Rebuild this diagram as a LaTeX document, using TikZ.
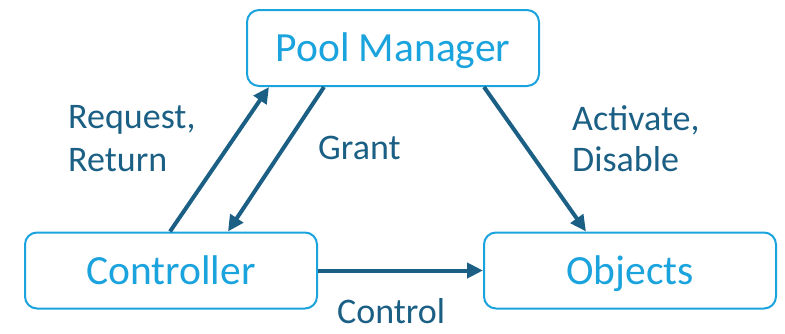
\documentclass[tikz,border=0pt]{standalone}
\usepackage{fontspec}
\setmainfont{Carlito}
\usetikzlibrary{arrows.meta,calc}
\definecolor{boxblue}{HTML}{1AA3DD}
\definecolor{arrblue}{HTML}{1B5F84}
\tikzset{
  box/.style={draw=boxblue, line width=2pt, rounded corners=12pt, fill=white,
    minimum width=292pt, minimum height=76pt, text=boxblue,
    font=\fontsize{41.5}{48}\selectfont, inner sep=0pt,
    text height=27pt, text depth=0pt},
  arr/.style={draw=arrblue, line width=4pt, -{Triangle[length=16pt,width=15pt]}},
  lbl/.style={text=arrblue, font=\fontsize{36}{43}\selectfont, inner sep=0pt}
}
\begin{document}
\begin{tikzpicture}[x=1pt,y=-1pt]
\useasboundingbox (0,0) rectangle (785,333);
\node[box] (pm) at (393,48) {Pool Manager};
\node[box] (ctrl) at (171,270.5) {Controller};
\node[box] (obj) at (630,270.5) {Objects};
\draw[arr] ([xshift=146pt]ctrl.north west) -- ([xshift=23pt]pm.south west);
\draw[arr] ([xshift=78pt]pm.south west) -- ([xshift=204pt]ctrl.north west);
\draw[arr] ([xshift=238pt]pm.south west) -- ([xshift=103pt]obj.north west);
\draw[arr] (ctrl.east) -- (obj.west);
\node[lbl, anchor=base west] (req) at (68,128) {Request,};
\node[lbl, anchor=base west] (ret) at (68,171) {Return};
\node[lbl, anchor=base west] (gr) at (318,159) {Grant};
\node[lbl, anchor=base west] (act) at (572,130) {Activate,};
\node[lbl, anchor=base west] (dis) at (572,171) {Disable};
\node[lbl, anchor=base west, text depth=0pt] (con) at (337,323) {Control};
\end{tikzpicture}
\end{document}
